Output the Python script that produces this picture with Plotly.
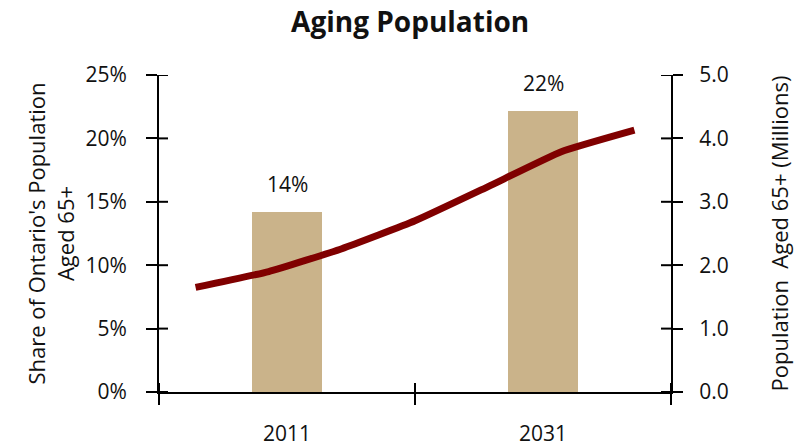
import plotly.graph_objects as go

# Share of population aged 65+ (bars, left axis, %)
bar_years = ["2011", "2031"]
share_65plus = [14.2, 22.2]

# Population aged 65+ in millions (line, right axis)
line_years = [2006, 2011, 2016, 2021, 2026, 2031, 2036]
pop_65plus = [1.65, 1.90, 2.26, 2.70, 3.24, 3.79, 4.13]

# Axis tick values
left_ticks = [0, 5, 10, 15, 20, 25]
right_ticks = [0, 1, 2, 3, 4, 5]

FONT = "Open Sans"
BAR_COLOR = "#CAB38A"
LINE_COLOR = "#800000"
TXT = "#111111"

PLOT_W = 798 - 159 - 127
PLOT_H = 447 - 75 - 55

fig = go.Figure()

fig.add_trace(go.Bar(
    x=bar_years, y=share_65plus,
    marker=dict(color=BAR_COLOR, line=dict(width=0)),
    width=0.275, xaxis="x", yaxis="y",
    hoverinfo="skip", showlegend=False,
))

fig.add_trace(go.Scatter(
    x=line_years, y=pop_65plus, mode="lines",
    line=dict(color=LINE_COLOR, width=7, shape="spline", smoothing=0.4),
    xaxis="x2", yaxis="y2",
    hoverinfo="skip", showlegend=False,
))

# value labels above bars
for i, v in enumerate(share_65plus):
    fig.add_annotation(
        x=i, y=v, xref="x", yref="y", text=f"{v:.0f}%",
        showarrow=False, yshift=28,
        font=dict(family=FONT, size=21, color=TXT),
    )

# inner half of the crossing tick marks
tick_line = dict(color="black", width=2)
for t in left_ticks:
    fig.add_shape(type="line", xref="paper", yref="y",
                  x0=0, x1=9 / PLOT_W, y0=t, y1=t, line=tick_line)
for t in right_ticks:
    fig.add_shape(type="line", xref="paper", yref="y2",
                  x0=1 - 10 / PLOT_W, x1=1, y0=t, y1=t, line=tick_line)
for b in [-0.5, 0.5, 1.5]:
    fig.add_shape(type="line", xref="x", yref="paper",
                  x0=b, x1=b, y0=0, y1=9 / PLOT_H, line=tick_line)

axis_common = dict(showgrid=False, zeroline=False, linecolor="black",
                   linewidth=2, tickcolor="black", tickwidth=2,
                   automargin=False)

fig.update_layout(
    width=798, height=447,
    margin=dict(l=159, r=127, t=75, b=55),
    paper_bgcolor="white", plot_bgcolor="white",
    bargap=0,
    font=dict(family=FONT, size=21, color=TXT),
    title=dict(text="<b>Aging Population</b>", x=0.514, xanchor="center",
               y=0.95, yanchor="middle",
               font=dict(family=FONT, size=28, color=TXT)),
    xaxis=dict(type="category", categoryorder="array", categoryarray=bar_years,
               range=[-0.5, 1.5], tickson="boundaries", ticks="outside",
               ticklen=11, showline=True, ticklabelstandoff=22,
               tickfont=dict(size=21), anchor="y", **axis_common),
    xaxis2=dict(overlaying="x", range=[2003.5, 2038.5], visible=False,
                anchor="y2"),
    yaxis=dict(range=[0, 25], tickmode="array", tickvals=left_ticks,
               ticktext=[f"{t}%" for t in left_ticks],
               ticks="outside", ticklen=11, showline=True,
               ticklabelstandoff=15,
               title=dict(text="Share of Ontario's Population<br>Aged 65+",
                          font=dict(size=22), standoff=5),
               **axis_common),
    yaxis2=dict(overlaying="y", side="right", range=[0, 5],
                tickmode="array", tickvals=right_ticks,
                ticktext=[f"{t:.1f}" for t in right_ticks], ticks="outside",
                ticklen=10, showline=True, ticklabelstandoff=12,
                title=dict(text="Population  Aged 65+ (Millions)",
                           font=dict(size=22), standoff=45),
                anchor="x", **axis_common),
)

fig.write_html("out.html")
